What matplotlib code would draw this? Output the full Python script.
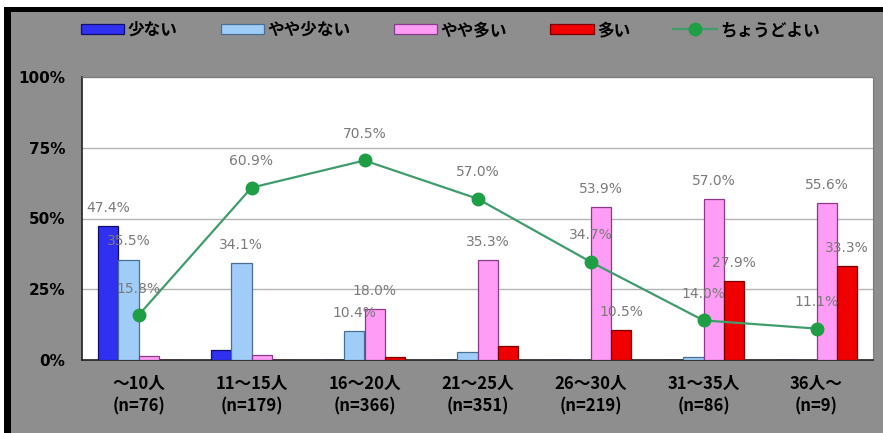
import matplotlib.pyplot as plt
import numpy as np
from matplotlib.patches import Rectangle

plt.rcParams['font.family'] = ['Noto Sans CJK JP', 'DejaVu Sans']

# class size groups
groups = ['～10人\n(n=76)', '11～15人\n(n=179)', '16～20人\n(n=366)', '21～25人\n(n=351)',
          '26～30人\n(n=219)', '31～35人\n(n=86)', '36人～\n(n=9)']

# answers in percent
few = [47.4, 3.4, 0.0, 0.0, 0.0, 0.0, 0.0]             # 少ない
bit_few = [35.5, 34.1, 10.4, 2.8, 0.0, 1.2, 0.0]       # やや少ない
bit_many = [1.3, 1.7, 18.0, 35.3, 53.9, 57.0, 55.6]    # やや多い
many = [0.0, 0.0, 1.1, 4.8, 10.5, 27.9, 33.3]          # 多い
just_right = [15.8, 60.9, 70.5, 57.0, 34.7, 14.0, 11.1]  # ちょうどよい

bar_series = [
    ('少ない', few, '#3030f0', '#10106a'),
    ('やや少ない', bit_few, '#9fcdf7', '#4a6f95'),
    ('やや多い', bit_many, '#ff9cf5', '#8a3a8a'),
    ('多い', many, '#f00000', '#7a0000'),
]

W, H = 883, 433
fig = plt.figure(figsize=(W / 100, H / 100), dpi=100, facecolor='white')
# frame: black edge on top/left, grey panel
fig.patches.append(Rectangle((4 / W, -0.1), 1.2, 1.1 - 7 / H, transform=fig.transFigure,
                             facecolor='black', edgecolor='none', zorder=-3))
fig.patches.append(Rectangle((11 / W, -0.1), 1.2, 1.1 - 12 / H, transform=fig.transFigure,
                             facecolor='#8e8e8e', edgecolor='none', zorder=-2))

ax = fig.add_axes([82 / W, 1 - 360 / H, (873 - 82) / W, (360 - 77) / H])
ax.set_facecolor('white')

x = np.arange(len(groups))
w = 0.18
lbl_style = dict(fontsize=10, color='#7a7a7a', family='DejaVu Sans', ha='center', va='center',
                 textcoords='offset points', zorder=6)

handles = []
for i, (name, vals, fc, ec) in enumerate(bar_series):
    pos = x + (i - 1.5) * w
    b = ax.bar(pos, vals, width=w, color=fc, edgecolor=ec, linewidth=0.9, label=name, zorder=3)
    handles.append(b)
    for px, v in zip(pos, vals):
        if v >= 10:
            ax.annotate(f'{v:.1f}%', (px, v), xytext=(0, 13), **lbl_style)

line, = ax.plot(x, just_right, color='#3f9d6c', lw=1.6, marker='o', markersize=9,
                markerfacecolor='#1f9f45', markeredgecolor='#1f9f45', label='ちょうどよい', zorder=4)
handles.append(line)
for px, v in zip(x, just_right):
    ax.annotate(f'{v:.1f}%', (px, v), xytext=(0, 19), **lbl_style)

ax.set_xlim(-0.5, len(groups) - 0.5)
ax.set_ylim(0, 100)
ax.set_yticks([0, 25, 50, 75, 100])
ax.set_yticklabels(['0%', '25%', '50%', '75%', '100%'], family='DejaVu Sans',
                   fontweight='bold', fontsize=11)
ax.set_xticks(x)
ax.set_xticklabels(groups, fontweight='bold', fontsize=12, linespacing=1.3)
ax.tick_params(axis='both', length=0, colors='black')
ax.tick_params(axis='y', pad=12)
ax.tick_params(axis='x', pad=11)
ax.yaxis.grid(True, color='#b4b4b4', lw=1)
ax.set_axisbelow(True)
for s in ('top', 'right'):
    ax.spines[s].set_color('#7a7a7a')
for s in ('left', 'bottom'):
    ax.spines[s].set_color('#202020')
    ax.spines[s].set_linewidth(1.2)

fig.legend(handles=handles, loc='center', bbox_to_anchor=(0.51, 1 - 30 / H), ncol=5,
           frameon=False, prop={'weight': 'bold', 'size': 12}, handlelength=2.6,
           handleheight=0.6, handletextpad=0.2, columnspacing=2.6)

fig.savefig('out.png', dpi=100, facecolor=fig.get_facecolor())
